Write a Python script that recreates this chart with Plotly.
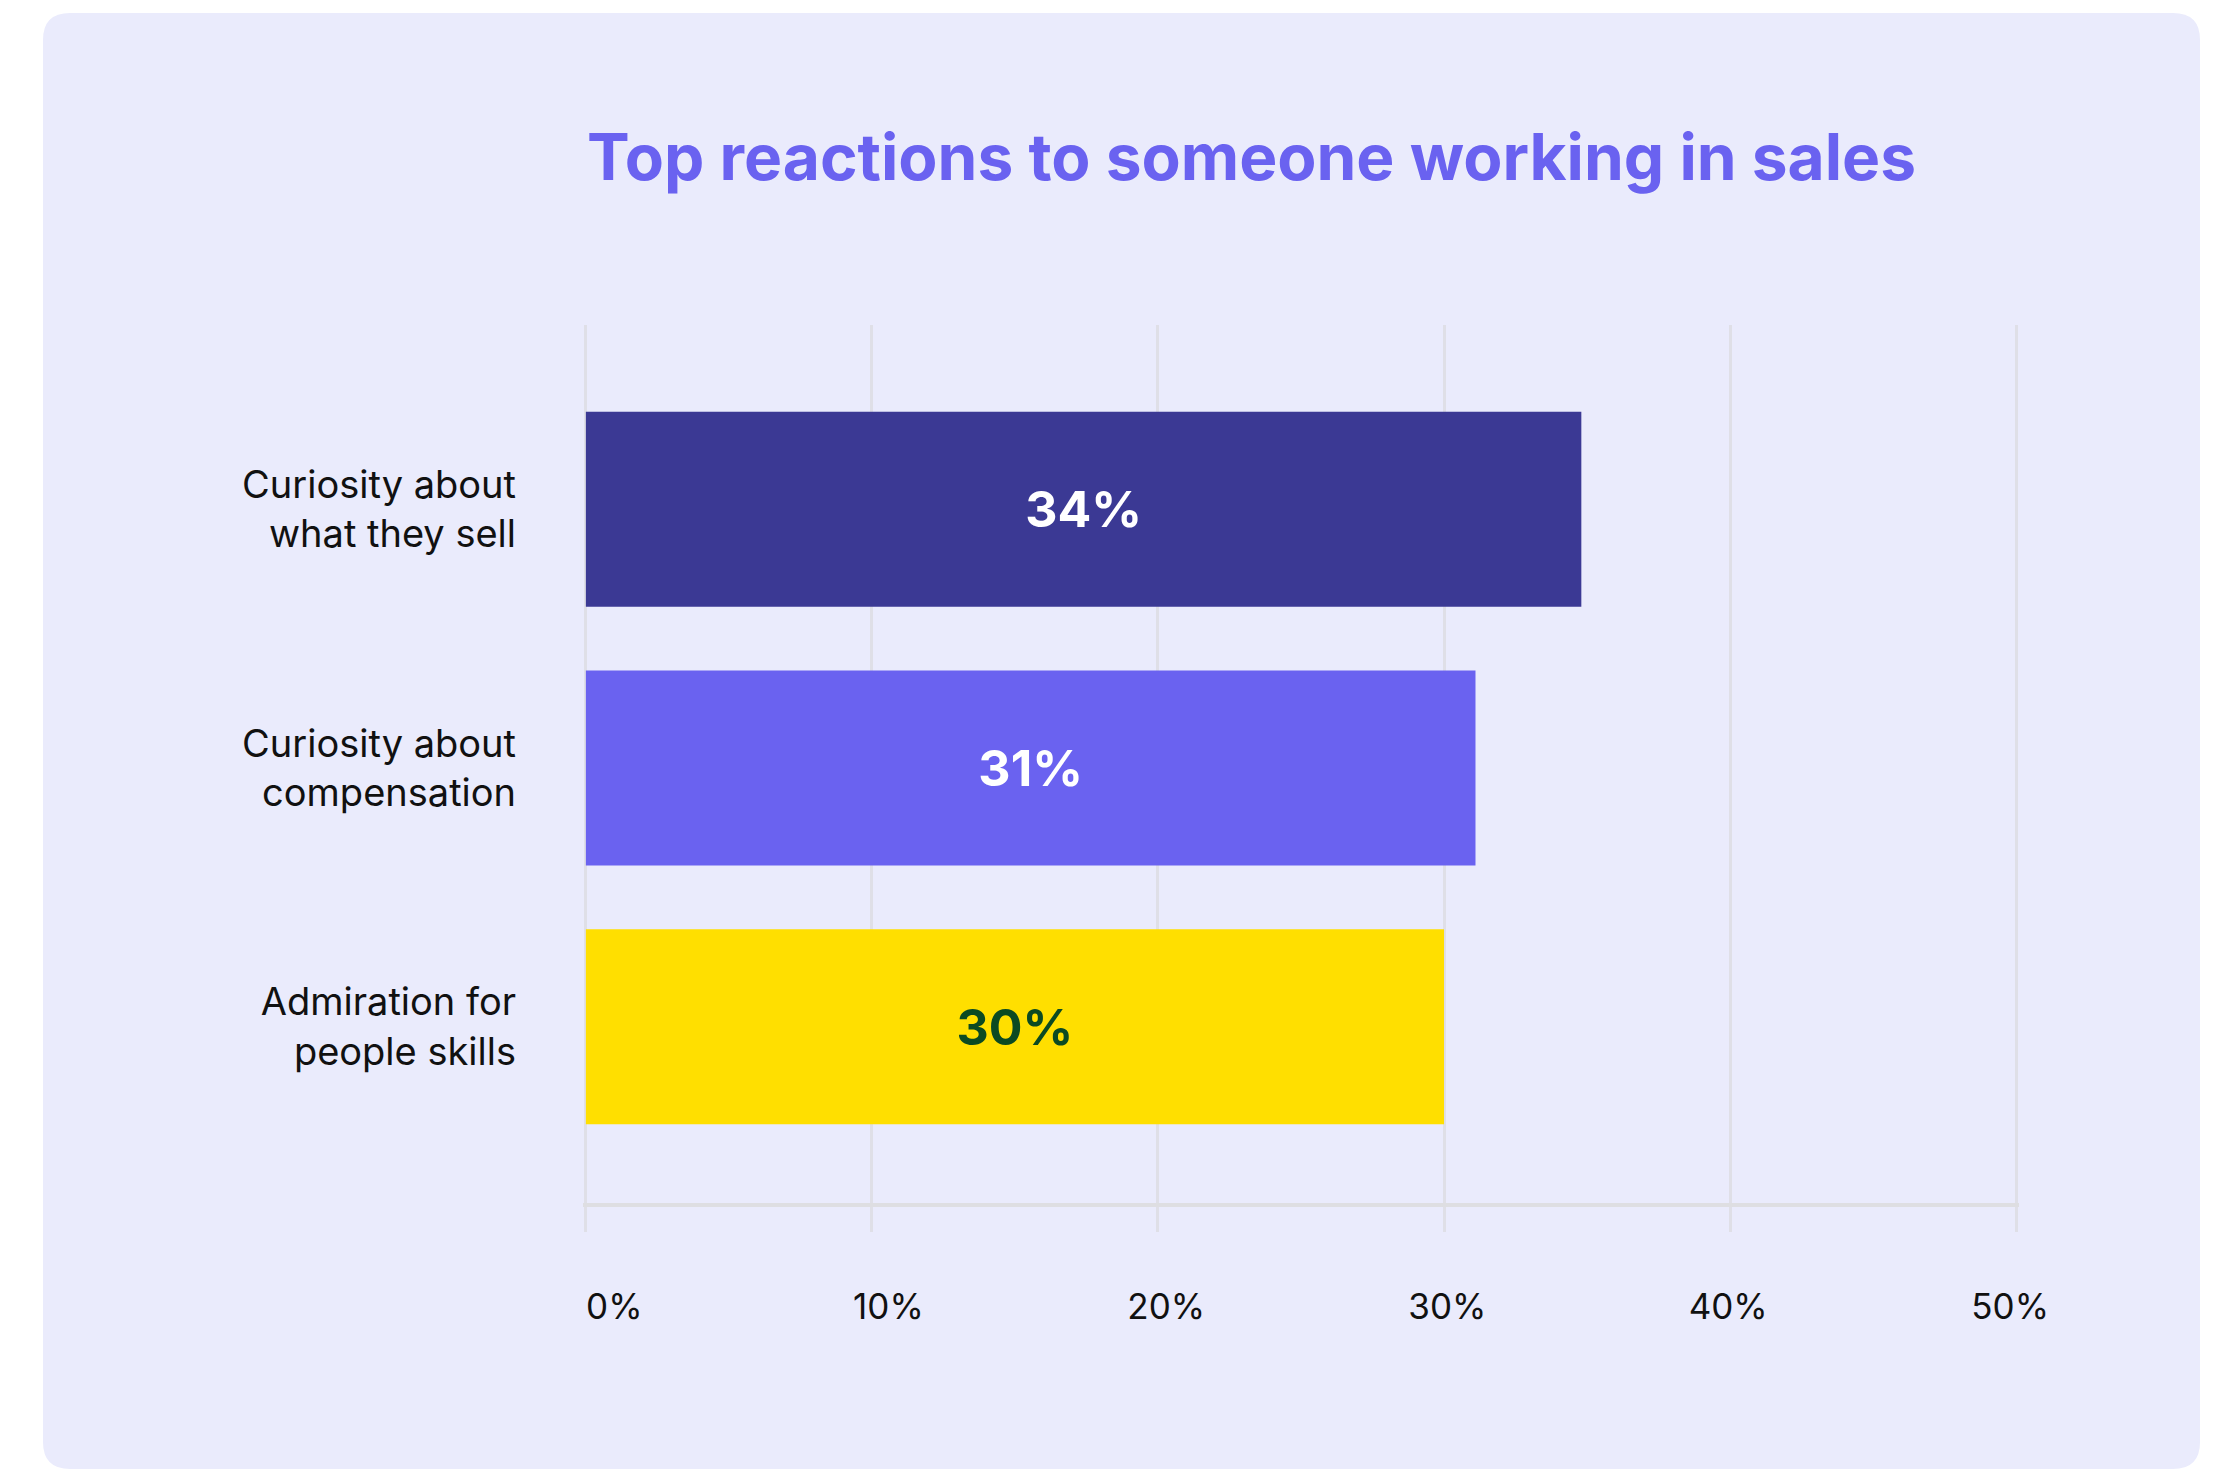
import plotly.graph_objects as go

# ---- data ----
categories = ["Curiosity about<br>what they sell", "Curiosity about<br>compensation", "Admiration for<br>people skills"]
values = [34.8, 31.1, 30.0]
value_labels = ["34%", "31%", "30%"]
bar_colors = ["#3B3994", "#6A62F0", "#FFDF00"]
label_colors = ["#FFFFFF", "#FFFFFF", "#0B4A22"]
tick_vals = [0, 10, 20, 30, 40, 50]
tick_text = ["0%", "10%", "20%", "30%", "40%", "50%"]
title_text = "Top reactions to someone working in sales"

W, H = 2214, 1470
L, R, T, B = 500, 100, 325, 267
pw, ph = W - L - R, H - T - B

def px(x):
    return (x - L) / pw
def py(y):
    return (H - B - y) / ph

fig = go.Figure()
fig.add_trace(go.Bar(
    y=categories, x=values, orientation="h",
    marker=dict(color=bar_colors, line=dict(width=0)),
    text=value_labels, textposition="inside", insidetextanchor="middle",
    textfont=dict(family="Inter", size=50, weight=700, color=label_colors),
    width=0.753, hoverinfo="skip", cliponaxis=False,
))
# invisible companion trace for the label axis (labels spread like the original layout)
fig.add_trace(go.Scatter(x=[tick_vals[0], tick_vals[-1]], y=[categories[0], categories[0]],
                         xaxis="x2", mode="markers", marker=dict(opacity=0),
                         hoverinfo="skip", showlegend=False))

# rounded card background
x0, x1, y0, y1, r = 43, 2200, 13, 1469, 27
path = (f"M {px(x0+r)},{py(y0)} L {px(x1-r)},{py(y0)} Q {px(x1)},{py(y0)} {px(x1)},{py(y0+r)} "
        f"L {px(x1)},{py(y1-r)} Q {px(x1)},{py(y1)} {px(x1-r)},{py(y1)} "
        f"L {px(x0+r)},{py(y1)} Q {px(x0)},{py(y1)} {px(x0)},{py(y1-r)} "
        f"L {px(x0)},{py(y0+r)} Q {px(x0)},{py(y0)} {px(x0+r)},{py(y0)} Z")
fig.add_shape(type="path", path=path, xref="paper", yref="paper",
              fillcolor="#EAEBFC", line=dict(width=0), layer="below")

# main axis spans 583..2019 px; label axis spans 600..2100 px
fig.update_layout(
    width=W, height=H,
    margin=dict(l=L, r=R, t=T, b=B, pad=0),
    paper_bgcolor="#FFFFFF", plot_bgcolor="rgba(0,0,0,0)",
    showlegend=False,
    title=dict(text=title_text, x=px(587), xref="paper", xanchor="left",
               y=1 - 158 / H, yref="container", yanchor="middle",
               font=dict(family="Inter", size=64, weight=700, color="#6A62F0")),
    xaxis=dict(domain=[px(583), px(2019)], range=[-0.1, 50.1],
               tickvals=tick_vals, showticklabels=False,
               showgrid=True, gridcolor="#DFDFE7", gridwidth=3, zeroline=False,
               showline=True, linecolor="#DEDEE2", linewidth=4,
               ticks="outside", ticklen=25, tickwidth=3, tickcolor="#DFDFE7"),
    xaxis2=dict(domain=[px(600), px(2100)], anchor="y", side="bottom",
                range=[-1.422, 51.90],
                tickvals=tick_vals, ticktext=tick_text,
                ticklabelposition="outside left",
                showgrid=False, zeroline=False, showline=False,
                ticks="outside", ticklen=25, tickcolor="rgba(0,0,0,0)",
                ticklabelstandoff=73, ticklabelshift=3,
                tickfont=dict(family="Inter", size=35, color="#111111")),
    yaxis=dict(anchor="x", categoryorder="array", categoryarray=categories,
               range=[2.681, -0.712], showgrid=False, zeroline=False,
               showline=False, ticks="", ticklabelstandoff=66,
               tickfont=dict(family="Inter", size=38, color="#111111")),
    font=dict(family="Inter"),
)

fig.write_html("out.html")
